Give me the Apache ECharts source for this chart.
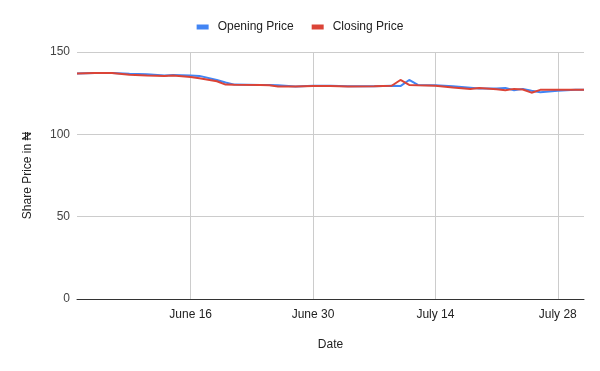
<!DOCTYPE html>
<html><head><meta charset="utf-8">
<script src="https://cdn.jsdelivr.net/npm/echarts@6/dist/echarts.min.js"></script>
<style>html,body{margin:0;padding:0;background:#fff}#c{width:600px;height:371px}</style>
</head><body><div id="c"></div>
<script>
const dates = ["2024-06-03","2024-06-05","2024-06-07","2024-06-09","2024-06-11","2024-06-13","2024-06-14","2024-06-16","2024-06-17","2024-06-19","2024-06-20","2024-06-21","2024-06-24","2024-06-25","2024-06-26","2024-06-28","2024-06-30","2024-07-02","2024-07-04","2024-07-07","2024-07-09","2024-07-10","2024-07-11","2024-07-12","2024-07-14","2024-07-16","2024-07-18","2024-07-19","2024-07-21","2024-07-22","2024-07-23","2024-07-24","2024-07-25","2024-07-26","2024-07-28","2024-07-30","2024-07-31"];
const openingPrice = [137,137.2,137.3,136.8,136.5,135.8,136,135.8,135.5,133,131.5,130.2,130,130,129.8,129,129.5,129.5,129.2,129.2,129.5,129.3,133,130,129.8,129.2,128.3,127.8,127.8,128.2,126.8,127.6,126.5,125.5,126.5,127,127];
const closingPrice = [137,137.2,137.3,136.2,135.8,135.5,135.8,134.8,134,132.2,130.2,130.1,130,129.8,129,129,129.3,129.4,129.1,129.2,129.5,133,130,129.8,129.5,128.5,127.6,128.2,127.4,126.8,127.6,127.2,125.3,127,127,127,127];
const tickDates = ["2024-06-16","2024-06-30","2024-07-14","2024-07-28"];
const xRange = ["2024-06-03","2024-07-31"];
const yTicks = [0,50,100,150];
const months = ["January","February","March","April","May","June","July","August","September","October","November","December"];
const origin = Date.UTC(2024,5,2);
function dayNum(s){const p=s.split('-').map(Number);return Math.round((Date.UTC(p[0],p[1]-1,p[2])-origin)/86400000);}
function dayLabel(n){const d=new Date(origin+n*86400000);return months[d.getUTCMonth()]+' '+d.getUTCDate();}
const openData = dates.map((d,i)=>[dayNum(d),openingPrice[i]]);
const closeData = dates.map((d,i)=>[dayNum(d),closingPrice[i]]);
const tickVals = tickDates.map(dayNum);
const chart = echarts.init(document.getElementById('c'));
chart.setOption({
  animation:false,
  textStyle:{fontFamily:'"Liberation Sans", Arial, sans-serif'},
  legend:{top:16,left:'center',itemWidth:12,itemHeight:5,itemGap:18,icon:'rect',
    textStyle:{fontSize:12,color:'#222',padding:[0,0,0,4]},data:['Opening Price','Closing Price']},
  grid:{left:77,right:16,top:52,bottom:72,containLabel:false},
  xAxis:{type:'value',min:dayNum(xRange[0]),max:dayNum(xRange[1]),
    name:'Date',nameLocation:'middle',nameGap:40,nameTextStyle:{fontSize:12,color:'#222'},
    axisLine:{lineStyle:{color:'#333',width:1}},
    axisTick:{show:false,customValues:tickVals},
    axisLabel:{customValues:tickVals,fontSize:12,color:'#222',margin:10,formatter:v=>dayLabel(v)},
    splitLine:{show:true,lineStyle:{color:'#ccc',width:1}}},
  yAxis:{type:'value',min:yTicks[0],max:yTicks[yTicks.length-1],interval:50,
    name:'Share Price in ₦',nameLocation:'middle',nameGap:43,nameTextStyle:{fontSize:12,color:'#222'},
    axisLine:{show:false},axisTick:{show:false},
    axisLabel:{fontSize:12,color:'#444',margin:7},
    splitLine:{lineStyle:{color:'#ccc',width:1}}},
  series:[
    {name:'Opening Price',type:'line',data:openData,showSymbol:false,symbol:'none',
      itemStyle:{color:'#4285F4'},lineStyle:{color:'#4285F4',width:2}},
    {name:'Closing Price',type:'line',data:closeData,showSymbol:false,symbol:'none',
      itemStyle:{color:'#DB4437'},lineStyle:{color:'#DB4437',width:2}}
  ]
});
</script></body></html>
